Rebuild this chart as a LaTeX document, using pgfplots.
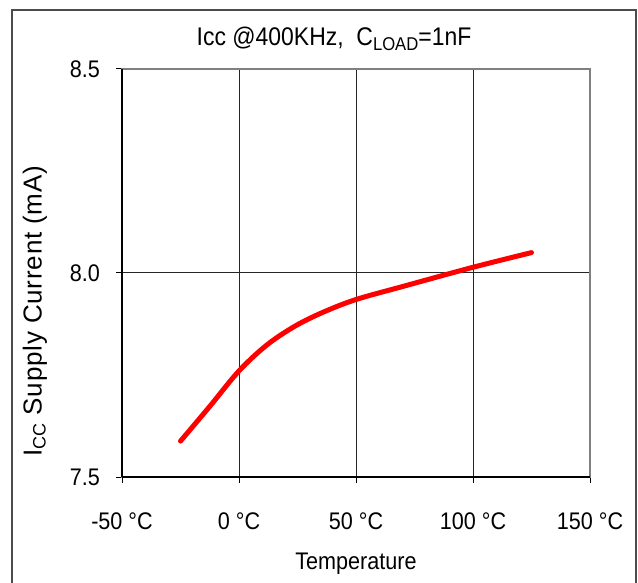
\documentclass[border=0pt]{standalone}
\usepackage{fontspec}
\setmainfont{Liberation Sans}[FakeStretch=0.9]
\newfontfamily\ylfont{Liberation Sans}[LetterSpace=3]
\usepackage{pgfplots}
\pgfplotsset{compat=1.18}

\newcommand{\lab}{\fontsize{24bp}{28bp}\selectfont}

\begin{document}
\begin{tikzpicture}
\useasboundingbox (0bp,0bp) rectangle (638bp,583bp);
\draw[black!70, line width=1.5bp] (12bp,573bp) rectangle (636bp,-20bp);
\begin{axis}[
    at={(122bp,106bp)}, anchor=south west,
    scale only axis, width=468bp, height=408bp,
    xmin=-50, xmax=150, ymin=7.5, ymax=8.5,
    xtick={-50,0,50,100,150},
    ytick={7.5,8,8.5},
    xticklabels={-50 °C, 0 °C, 50 °C, 100 °C, 150 °C},
    yticklabels={7.5, 8.0, 8.5},
    tick pos=left,
    tick align=outside,
    major tick length=6bp,
    tick style={black, line width=1bp},
    grid=major,
    major grid style={black!85, line width=1bp},
    axis line style={black!50, line width=1.2bp},
    every tick label/.append style={font=\lab},
    xticklabel style={anchor=base, inner sep=0pt, yshift=-46bp},
    yticklabel style={anchor=east, inner sep=0pt, xshift=-16bp},
    title={Icc @400KHz,\ \ C{\fontsize{18.5bp}{19bp}\selectfont\raisebox{-5bp}{LOAD}}=1nF},
    title style={font=\fontsize{25.5bp}{30bp}\selectfont, at={(0.5,1)}, anchor=base, inner sep=0pt, yshift=18bp, xshift=-22bp},
    xlabel={Temperature},
    xlabel style={font=\lab, at={(0.5,0)}, anchor=base, inner sep=0pt, yshift=-92bp},
    ylabel={I{\fontsize{18bp}{18bp}\selectfont\raisebox{-4bp}{CC}} Supply Current (mA)},
    ylabel style={font=\ylfont\fontsize{26bp}{30bp}\selectfont, at={(axis description cs:-0.186,0.406)}, anchor=center, inner sep=0pt},
]
\addplot[red, line width=5bp, line cap=round, smooth, tension=0.55] coordinates {
    (-25,7.588) (-12.5,7.673) (0,7.760) (12,7.824) (24,7.870)
    (36,7.904) (50,7.935) (70,7.967) (100,8.014) (125,8.050)
};
\end{axis}
\begin{scope}[line width=2bp]
\draw (122bp,106bp) -- (122bp,514bp);
\draw (122bp,106bp) -- (590bp,106bp);
\end{scope}
\end{tikzpicture}
\end{document}
